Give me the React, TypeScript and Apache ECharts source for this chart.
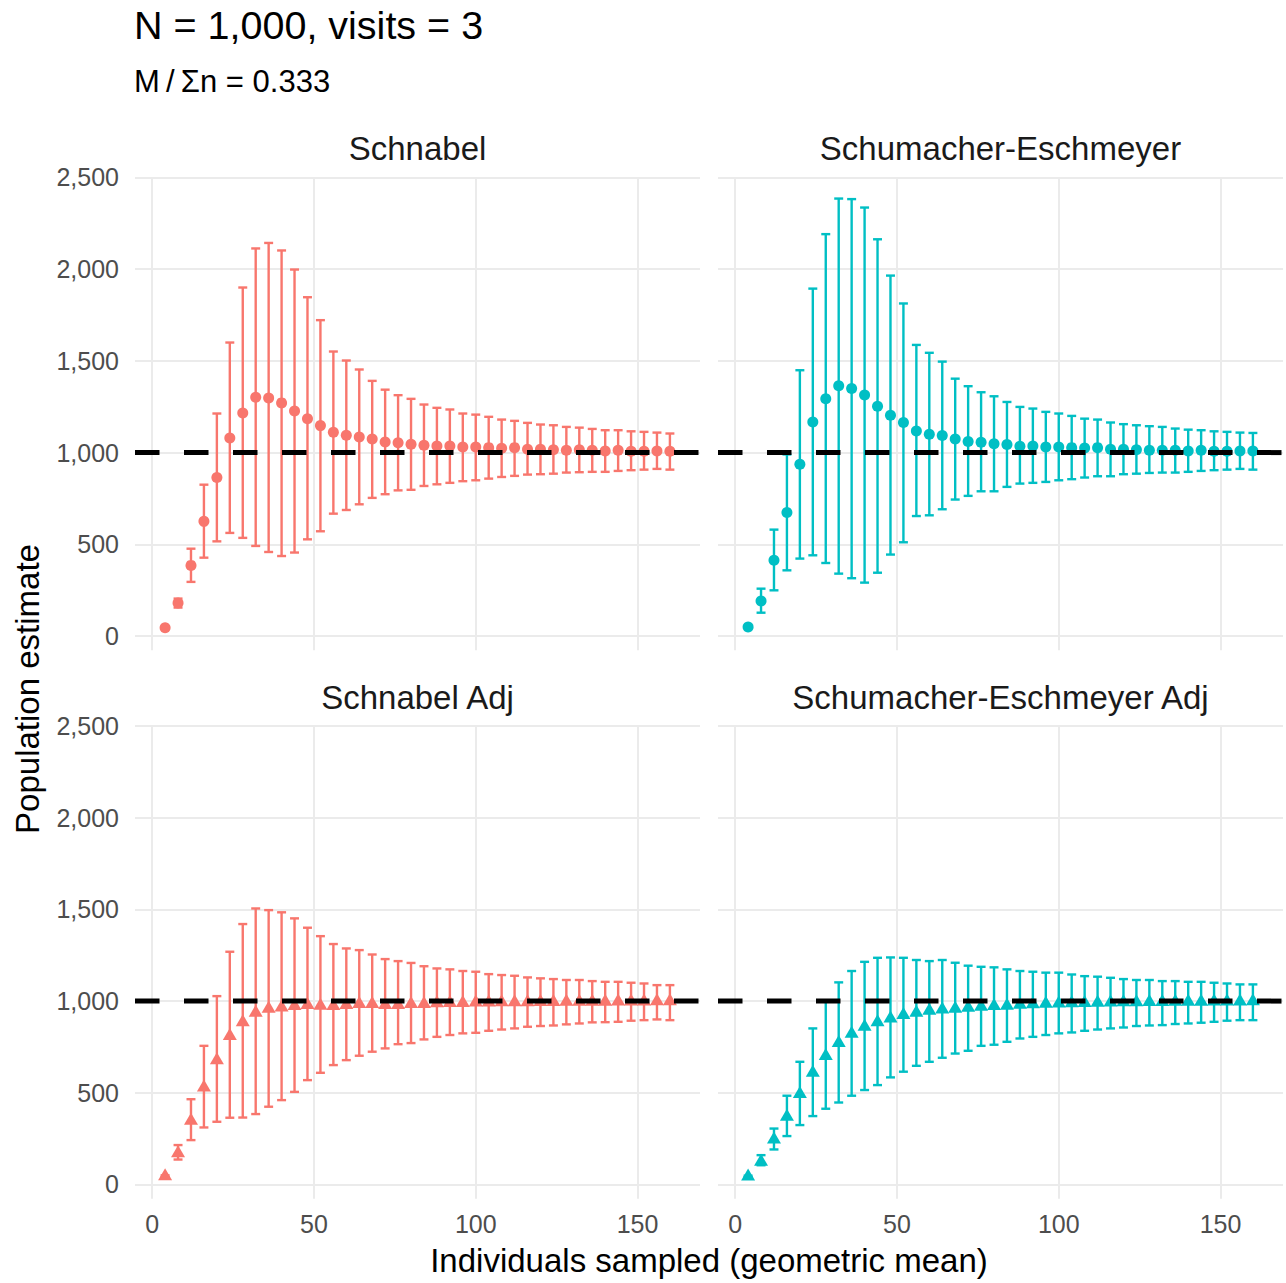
import React, { useEffect, useRef } from 'react';
import * as echarts from 'echarts';

// ---- data ----
const xs = [4, 8, 12, 16, 20, 24, 28, 32, 36, 40, 44, 48, 52, 56, 60, 64, 68, 72, 76, 80,
  84, 88, 92, 96, 100, 104, 108, 112, 116, 120, 124, 128, 132, 136, 140, 144, 148, 152, 156, 160];

const schnabelEst = [45, 180, 385, 625, 864, 1080, 1216, 1302, 1298, 1271, 1227, 1185, 1147, 1111, 1094, 1085, 1074, 1058, 1054, 1045,
  1040, 1036, 1036, 1031, 1031, 1027, 1024, 1027, 1018, 1018, 1016, 1013, 1016, 1013, 1009, 1013, 1007, 1007, 1009, 1007];
const schnabelLo = [40, 155, 295, 427, 516, 562, 535, 491, 458, 436, 455, 527, 571, 667, 687, 718, 753, 773, 794, 797,
  818, 827, 835, 844, 849, 858, 867, 873, 880, 882, 885, 891, 893, 895, 895, 900, 904, 907, 911, 907];
const schnabelHi = [50, 204, 476, 825, 1213, 1600, 1900, 2113, 2143, 2102, 1998, 1847, 1722, 1551, 1502, 1453, 1391, 1343, 1313, 1293,
  1262, 1244, 1235, 1213, 1207, 1195, 1180, 1173, 1162, 1153, 1149, 1140, 1136, 1129, 1122, 1122, 1116, 1113, 1109, 1104];

const seEst = [49, 191, 413, 673, 936, 1167, 1293, 1364, 1349, 1314, 1253, 1204, 1164, 1118, 1100, 1093, 1074, 1060, 1056, 1048,
  1044, 1035, 1036, 1031, 1031, 1027, 1025, 1027, 1018, 1018, 1016, 1013, 1013, 1013, 1009, 1013, 1007, 1007, 1009, 1009];
const seLo = [44, 127, 249, 358, 422, 440, 398, 340, 315, 291, 345, 444, 511, 654, 658, 691, 744, 764, 789, 789,
  813, 831, 835, 840, 849, 855, 864, 871, 871, 882, 885, 889, 891, 891, 895, 900, 904, 907, 911, 907];
const seHi = [54, 258, 580, 990, 1449, 1894, 2191, 2385, 2382, 2336, 2163, 1965, 1813, 1587, 1544, 1496, 1403, 1362, 1329, 1307,
  1276, 1249, 1240, 1222, 1213, 1200, 1185, 1180, 1164, 1155, 1149, 1144, 1140, 1131, 1125, 1122, 1116, 1113, 1109, 1107];

const schnabelAdjEst = [45, 171, 347, 529, 678, 809, 885, 936, 958, 965, 973, 978, 974, 973, 978, 984, 984, 978, 978, 984,
  984, 988, 990, 990, 992, 992, 993, 993, 994, 995, 995, 996, 996, 997, 997, 998, 998, 998, 999, 999];
const schnabelAdjLo = [40, 136, 242, 311, 342, 364, 365, 384, 424, 460, 505, 569, 609, 651, 678, 702, 724, 742, 765, 771,
  791, 805, 815, 824, 827, 838, 845, 851, 860, 864, 867, 873, 878, 884, 885, 887, 893, 896, 900, 896];
const schnabelAdjHi = [50, 215, 465, 756, 1027, 1269, 1420, 1505, 1496, 1484, 1451, 1400, 1354, 1311, 1287, 1278, 1254, 1229, 1218, 1208,
  1190, 1178, 1173, 1164, 1160, 1147, 1142, 1138, 1129, 1124, 1120, 1115, 1115, 1109, 1105, 1105, 1100, 1096, 1087, 1087];

const seAdjEst = [44, 124, 245, 369, 493, 609, 700, 771, 822, 860, 885, 905, 924, 936, 947, 954, 958, 963, 969, 973,
  974, 980, 983, 985, 987, 988, 990, 991, 992, 993, 994, 995, 995, 996, 997, 997, 998, 998, 998, 999];
const seAdjLo = [40, 105, 191, 264, 324, 373, 413, 447, 484, 515, 542, 584, 615, 647, 669, 691, 714, 729, 756, 762,
  778, 796, 805, 815, 824, 829, 838, 845, 851, 856, 864, 867, 869, 875, 878, 882, 887, 893, 896, 896];
const seAdjHi = [48, 160, 305, 484, 669, 851, 996, 1102, 1164, 1214, 1236, 1238, 1236, 1224, 1218, 1224, 1209, 1193, 1187, 1184,
  1173, 1164, 1160, 1155, 1155, 1145, 1136, 1133, 1127, 1120, 1115, 1115, 1109, 1109, 1105, 1105, 1100, 1096, 1091, 1091];

const panelNames = ['Schnabel', 'Schumacher-Eschmeyer', 'Schnabel Adj', 'Schumacher-Eschmeyer Adj'];
const TRUE_N = 1000;
const X_TICK_STEP = 50;
const Y_TICK_STEP = 500;
const X_MIN = -5.3;
const X_MAX = 169.3;
const Y_MIN = -78;
const Y_MAX = 2502;
const ERR_HALF_WIDTH = 1.385;

const RED = '#F8766D';
const TEAL = '#00BFC4';
const FONT = '"Liberation Sans", Arial, sans-serif';

const panels = [
  { est: schnabelEst, lo: schnabelLo, hi: schnabelHi, color: RED, tri: false, left: 135, top: 177.1 },
  { est: seEst, lo: seLo, hi: seHi, color: TEAL, tri: false, left: 718, top: 177.1 },
  { est: schnabelAdjEst, lo: schnabelAdjLo, hi: schnabelAdjHi, color: RED, tri: true, left: 135, top: 725.6 },
  { est: seAdjEst, lo: seAdjLo, hi: seAdjHi, color: TEAL, tri: true, left: 718, top: 725.6 },
];
const PANEL_W = 565;
const PANEL_H = 473.2;

export default function App() {
  const ref = useRef<HTMLDivElement>(null);
  useEffect(() => {
    const chart = echarts.init(ref.current!, null, { renderer: 'svg', width: 1286, height: 1283 });

    const grid: any[] = [];
    const xAxis: any[] = [];
    const yAxis: any[] = [];
    const series: any[] = [];
    const graphic: any[] = [];

    panels.forEach((p, i) => {
      grid.push({ left: p.left, top: p.top, width: PANEL_W, height: PANEL_H, containLabel: false, outerBoundsMode: 'none' });
      xAxis.push({
        gridIndex: i, type: 'value', min: X_MIN, max: X_MAX,
        minInterval: X_TICK_STEP, maxInterval: X_TICK_STEP,
        axisLine: { show: false }, axisTick: { show: false },
        splitLine: { show: true, showMinLine: false, showMaxLine: false, lineStyle: { color: '#EBEBEB', width: 2 } },
        axisLabel: {
          show: i >= 2, showMinLabel: false, showMaxLabel: false, margin: 13,
          color: '#4D4D4D', fontSize: 25, fontFamily: FONT,
          formatter: (v: number) => (Math.abs(v % X_TICK_STEP) < 1e-9 ? String(v) : ''),
        },
      });
      yAxis.push({
        gridIndex: i, type: 'value', min: Y_MIN, max: Y_MAX,
        minInterval: Y_TICK_STEP, maxInterval: Y_TICK_STEP,
        axisLine: { show: false }, axisTick: { show: false },
        splitLine: { show: true, showMinLine: false, showMaxLine: false, lineStyle: { color: '#EBEBEB', width: 2 } },
        axisLabel: {
          show: i % 2 === 0, showMinLabel: false, showMaxLabel: false, margin: 16,
          color: '#4D4D4D', fontSize: 25, fontFamily: FONT,
          formatter: (v: number) => (Math.abs(v % Y_TICK_STEP) < 1e-9 ? v.toLocaleString('en-US') : ''),
        },
      });

      const color = p.color;
      series.push({
        type: 'custom', xAxisIndex: i, yAxisIndex: i, silent: true, z: 2, clip: false,
        data: xs.map((x, j) => [x, p.lo[j], p.hi[j]]),
        encode: { x: 0, y: [1, 2] },
        renderItem: (params: any, api: any) => {
          const x = api.value(0);
          const lo = api.value(1);
          const hi = api.value(2);
          const a = api.coord([x, lo]);
          const b = api.coord([x, hi]);
          const l1 = api.coord([x - ERR_HALF_WIDTH, lo]);
          const r1 = api.coord([x + ERR_HALF_WIDTH, lo]);
          const l2 = api.coord([x - ERR_HALF_WIDTH, hi]);
          const r2 = api.coord([x + ERR_HALF_WIDTH, hi]);
          const st = { stroke: color, lineWidth: 2.4, fill: null };
          return {
            type: 'group',
            children: [
              { type: 'line', shape: { x1: a[0], y1: a[1], x2: b[0], y2: b[1] }, style: st },
              { type: 'line', shape: { x1: l1[0], y1: l1[1], x2: r1[0], y2: r1[1] }, style: st },
              { type: 'line', shape: { x1: l2[0], y1: l2[1], x2: r2[0], y2: r2[1] }, style: st },
            ],
          };
        },
      });
      series.push({
        type: 'scatter', xAxisIndex: i, yAxisIndex: i, silent: true, z: 3,
        data: xs.map((x, j) => [x, p.est[j]]),
        symbol: p.tri ? 'triangle' : 'circle',
        symbolSize: p.tri ? [14, 12] : 11,
        symbolOffset: p.tri ? [0, -2] : [0, 0],
        itemStyle: { color, opacity: 1 },
      });
      series.push({
        type: 'line', xAxisIndex: i, yAxisIndex: i, silent: true, z: 4,
        data: [[X_MIN, TRUE_N], [X_MAX, TRUE_N]],
        symbol: 'none',
        lineStyle: { color: '#000000', width: 5, type: [24.5, 24.5] },
      });

      graphic.push({
        type: 'text', x: p.left + PANEL_W / 2, y: p.top - 28.3,
        style: {
          text: panelNames[i], font: `33px ${FONT}`, fill: '#1A1A1A',
          textAlign: 'center', textVerticalAlign: 'middle',
        },
      });
    });

    graphic.push({
      type: 'text', x: 134, y: 25,
      style: { text: 'N = 1,000, visits = 3', font: `39.5px ${FONT}`, fill: '#000000', textAlign: 'left', textVerticalAlign: 'middle' },
    });
    graphic.push({
      type: 'text', x: 134, y: 81,
      style: { text: 'M\u2009/\u2009Σn = 0.333', font: `31px ${FONT}`, fill: '#000000', textAlign: 'left', textVerticalAlign: 'middle' },
    });
    graphic.push({
      type: 'text', x: 709, y: 1260,
      style: { text: 'Individuals sampled (geometric mean)', font: `33px ${FONT}`, fill: '#000000', textAlign: 'center', textVerticalAlign: 'middle' },
    });
    graphic.push({
      type: 'text', x: 27, y: 689, rotation: Math.PI / 2,
      style: { text: 'Population estimate', font: `33px ${FONT}`, fill: '#000000', textAlign: 'center', textVerticalAlign: 'middle' },
    });

    chart.setOption({
      animation: false,
      backgroundColor: '#FFFFFF',
      textStyle: { fontFamily: FONT },
      grid, xAxis, yAxis, series, graphic,
    });
    return () => chart.dispose();
  }, []);
  return <div ref={ref} style={{ position: 'absolute', left: 0, top: 0, width: 1286, height: 1283 }} />;
}
